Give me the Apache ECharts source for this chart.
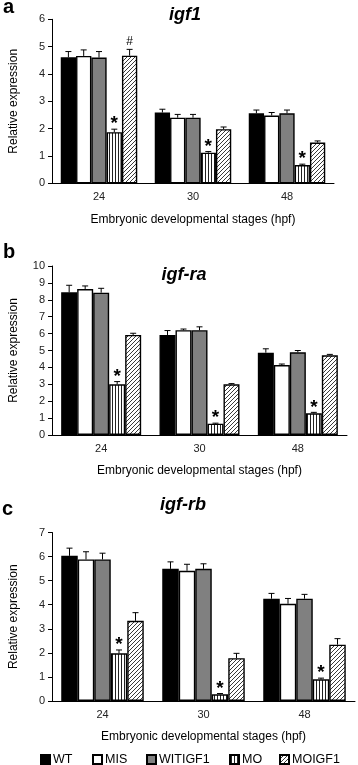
<!DOCTYPE html>
<html>
<head>
<meta charset="utf-8">
<script src="https://cdn.jsdelivr.net/npm/echarts@6/dist/echarts.min.js"></script>
<style>
  html, body { margin: 0; padding: 0; background: #fff; }
  #main { width: 358px; height: 765px; }
</style>
</head>
<body>
<div id="main"></div>
<script>
// data
const stages = ['24', '30', '48']
const groups = ['WT', 'MIS', 'WITIGF1', 'MO', 'MOIGF1']

// rows follow groups, columns follow stages
const igf1Means = [
  [4.61, 2.59, 2.56],
  [4.66, 2.40, 2.48],
  [4.60, 2.40, 2.56],
  [1.87, 1.12, 0.67],
  [4.67, 1.98, 1.49]
]
const igf1Errors = [
  [0.21, 0.12, 0.12],
  [0.22, 0.12, 0.11],
  [0.22, 0.12, 0.12],
  [0.11, 0.04, 0.03],
  [0.23, 0.08, 0.06]
]
const igfRaMeans = [
  [8.44, 5.92, 4.87],
  [8.64, 6.20, 4.14],
  [8.42, 6.20, 4.89],
  [3.00, 0.67, 1.28],
  [5.92, 3.00, 4.72]
]
const igfRaErrors = [
  [0.42, 0.26, 0.23],
  [0.18, 0.07, 0.06],
  [0.26, 0.20, 0.11],
  [0.16, 0.03, 0.06],
  [0.10, 0.04, 0.05]
]
const igfRbMeans = [
  [6.03, 5.49, 4.25],
  [5.88, 5.41, 4.04],
  [5.88, 5.49, 4.25],
  [1.98, 0.28, 0.90],
  [3.33, 1.78, 2.34]
]
const igfRbErrors = [
  [0.32, 0.29, 0.22],
  [0.32, 0.27, 0.22],
  [0.26, 0.21, 0.18],
  [0.14, 0.03, 0.05],
  [0.34, 0.20, 0.25]
]
const igf1MoMarks = ['*', '*', '*']
const igf1MoigfMarks = ['#', '', '']
const igfRaMoMarks = ['*', '*', '*']
const igfRbMoMarks = ['*', '*', '*']
const igf1YMax = 6
const igfRaYMax = 10
const igfRbYMax = 7

const FONT = 'Liberation Sans, Arial, sans-serif'

function stripePattern() {
  const c = document.createElement('canvas')
  c.width = 3
  c.height = 3
  const ctx = c.getContext('2d')
  ctx.fillStyle = '#fff'
  ctx.fillRect(0, 0, 3, 3)
  ctx.fillStyle = '#222'
  ctx.fillRect(1, 0, 1, 3)
  return { image: c, repeat: 'repeat' }
}

function hatchPattern() {
  const c = document.createElement('canvas')
  c.width = 4
  c.height = 4
  const ctx = c.getContext('2d')
  ctx.fillStyle = '#fff'
  ctx.fillRect(0, 0, 4, 4)
  ctx.strokeStyle = '#3a3a3a'
  ctx.lineWidth = 1
  ctx.beginPath()
  ctx.moveTo(-1, 5); ctx.lineTo(5, -1)
  ctx.moveTo(-3, 3); ctx.lineTo(3, -3)
  ctx.moveTo(1, 7); ctx.lineTo(7, 1)
  ctx.stroke()
  return { image: c, repeat: 'repeat' }
}

const fills = ['#000000', '#ffffff', '#808080', stripePattern(), hatchPattern()]

const panels = [
  { means: igf1Means, errors: igf1Errors, max: igf1YMax, marks: [null, null, null, igf1MoMarks, igf1MoigfMarks],
    top: 19.3, height: 164, width: 294, barW: 15.3 },
  { means: igfRaMeans, errors: igfRaErrors, max: igfRaYMax, marks: [null, null, null, igfRaMoMarks, null],
    top: 266, height: 169, width: 307, barW: 16 },
  { means: igfRbMeans, errors: igfRbErrors, max: igfRbYMax, marks: [null, null, null, igfRbMoMarks, null],
    top: 532.5, height: 168.5, width: 315, barW: 16.5 }
]

const grid = []
const xAxis = []
const yAxis = []
const series = []

panels.forEach((p, i) => {
  grid.push({ left: 40, top: p.top, width: p.width, height: p.height })
  xAxis.push({
    type: 'category',
    gridIndex: i,
    data: stages,
    name: 'Embryonic developmental stages (hpf)',
    nameLocation: 'middle',
    nameGap: 30,
    nameTextStyle: { fontFamily: FONT, fontSize: 12, color: '#000' },
    axisLine: { lineStyle: { color: '#000', width: 1 } },
    axisTick: { show: false },
    axisLabel: { fontFamily: FONT, fontSize: 11, color: '#222', margin: 8 }
  })
  yAxis.push({
    type: 'value',
    gridIndex: i,
    min: 0,
    max: p.max,
    interval: 1,
    name: 'Relative expression',
    nameLocation: 'middle',
    nameGap: 32,
    nameTextStyle: { fontFamily: FONT, fontSize: 12, color: '#000' },
    axisLine: { show: true, lineStyle: { color: '#000', width: 1 } },
    axisTick: { show: true, length: 4, lineStyle: { color: '#000' } },
    axisLabel: { fontFamily: FONT, fontSize: 11, color: '#222', margin: 7 },
    splitLine: { show: false }
  })
  groups.forEach((g, s) => {
    series.push({
      type: 'bar',
      name: g,
      xAxisIndex: i,
      yAxisIndex: i,
      barWidth: p.barW,
      barGap: '0%',
      data: p.means[s],
      itemStyle: { color: fills[s], borderColor: '#000', borderWidth: 1.4 },
      emphasis: { disabled: true },
      silent: true
    })
  })
  // error bars and significance marks
  const errData = []
  p.means.forEach((row, s) => row.forEach((v, c) => errData.push([c, v, v + p.errors[s][c], s])))
  series.push({
    type: 'custom',
    xAxisIndex: i,
    yAxisIndex: i,
    z: 10,
    silent: true,
    data: errData,
    renderItem: (params, api) => {
      const c = api.value(0)
      const s = api.value(3)
      const base = api.coord([c, api.value(1)])
      const top = api.coord([c, api.value(2)])
      const x = base[0] + (s - 2) * p.barW
      const children = [
        { type: 'line', shape: { x1: x, y1: base[1], x2: x, y2: top[1] }, style: { stroke: '#000', lineWidth: 1 } },
        { type: 'line', shape: { x1: x - 3, y1: top[1], x2: x + 3, y2: top[1] }, style: { stroke: '#000', lineWidth: 1 } }
      ]
      const m = p.marks[s] && p.marks[s][c]
      if (m) {
        children.push({
          type: 'text',
          x: x,
          y: m === '*' ? top[1] - 5 : top[1] - 2,
          style: {
            text: m,
            fill: '#000',
            font: m === '*' ? 'bold 19px ' + FONT : '12px ' + FONT,
            align: 'center',
            verticalAlign: m === '*' ? 'middle' : 'bottom'
          }
        })
      }
      return { type: 'group', children: children }
    }
  })
})

const titleStyle = { fontFamily: FONT, fontSize: 18, fontWeight: 'bold', fontStyle: 'italic', color: '#000' }
const letterStyle = { fontFamily: FONT, fontSize: 20, fontWeight: 'bold', color: '#000' }

// one legend per entry so each sits where the figure has it
const legendLeft = [40, 92, 146, 229, 279]
const legend = groups.map((g, k) => ({
  data: [g],
  left: legendLeft[k],
  top: 753,
  padding: 0,
  icon: 'rect',
  itemWidth: 9,
  itemHeight: 9,
  itemGap: 0,
  textStyle: { fontFamily: FONT, fontSize: 12.5, color: '#000', padding: [0, 0, 0, -2] },
  selectedMode: false
}))

const option = {
  animation: false,
  backgroundColor: '#fff',
  title: [
    { text: 'igf1', left: 185, top: 6, textAlign: 'center', textStyle: titleStyle, padding: 0 },
    { text: 'igf-ra', left: 184, top: 266, textAlign: 'center', textStyle: titleStyle, padding: 0 },
    { text: 'igf-rb', left: 183, top: 496, textAlign: 'center', textStyle: titleStyle, padding: 0 },
    { text: 'a', left: 3, top: -3, textStyle: letterStyle, padding: 0 },
    { text: 'b', left: 3, top: 242, textStyle: letterStyle, padding: 0 },
    { text: 'c', left: 2, top: 499, textStyle: letterStyle, padding: 0 }
  ],
  legend: legend,
  grid: grid,
  xAxis: xAxis,
  yAxis: yAxis,
  series: series
}

const chart = echarts.init(document.getElementById('main'))
chart.setOption(option)
</script>
</body>
</html>
